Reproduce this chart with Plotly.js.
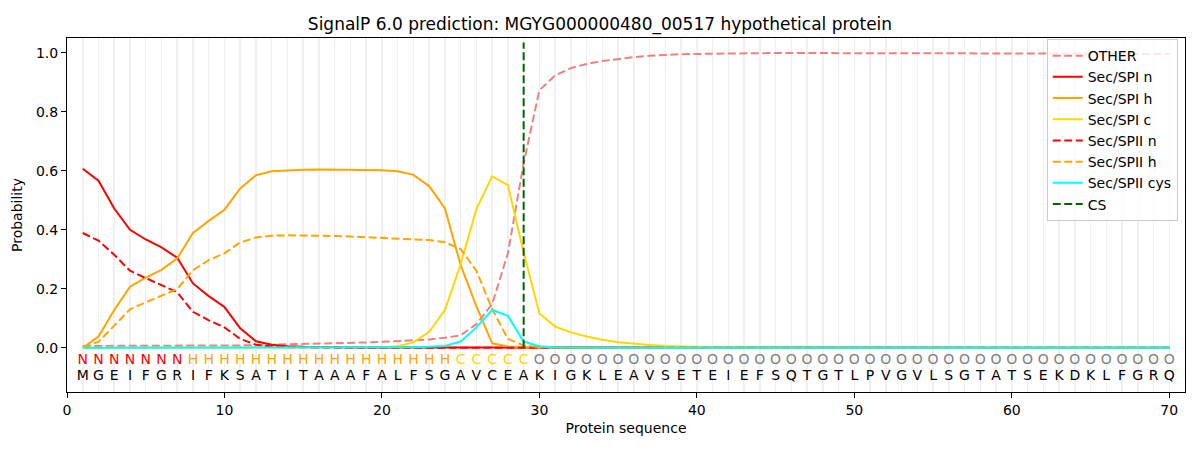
<!DOCTYPE html>
<html>
<head>
<meta charset="utf-8">
<script src="https://cdn.plot.ly/plotly-3.0.1.min.js"></script>
<style>
  body { margin: 0; background: #fff; }
  #chart { width: 1200px; height: 450px; }
</style>
</head>
<body>
<div id="chart"></div>
<script>
// residue sequence and per-residue region labels
const residues = "MGEIFGRIFKSATITAAAFALFSGAVCEAKIGKLEAVSETEIEFSQTGTLPVGVLSGTATSEKDKLFGRQ".split('');
const regionLabels = "NNNNNNNHHHHHHHHHHHHHHHHHCCCCCOOOOOOOOOOOOOOOOOOOOOOOOOOOOOOOOOOOOOOOOO".split('');
const csPos = 29;

// probabilities, one value per residue
const otherP = [0.006,0.006,0.006,0.006,0.006,0.006,0.007,0.007,0.007,0.008,
    0.008,0.009,0.010,0.011,0.012,0.013,0.014,0.016,0.018,0.020,
    0.022,0.024,0.028,0.034,0.042,0.080,0.148,0.320,0.625,0.873,
    0.923,0.948,0.962,0.972,0.979,0.985,0.990,0.993,0.995,0.996,
    0.997,0.998,0.998,0.998,0.999,0.999,0.999,0.999,0.999,0.999,
    0.999,0.999,0.999,0.999,0.998,0.998,0.998,0.998,0.998,0.998,
    0.997,0.997,0.997,0.997,0.997,0.997,0.997,0.996,0.996,0.996];
const spiN = [0.607,0.566,0.472,0.400,0.367,0.340,0.305,0.218,0.175,0.138,
    0.066,0.022,0.010,0.005,0.003,0.002,0.002,0.001,0.001,0.001,
    0.001,0.001,0.001,0.001,0.001,0.001,0.001,0.001,0.001,0,
    0,0,0,0,0,0,0,0,0,0,
    0,0,0,0,0,0,0,0,0,0,
    0,0,0,0,0,0,0,0,0,0,
    0,0,0,0,0,0,0,0,0,0];
const spiH = [0.000,0.038,0.128,0.207,0.238,0.264,0.303,0.389,0.430,0.468,
    0.540,0.585,0.598,0.601,0.603,0.604,0.604,0.604,0.603,0.602,
    0.598,0.586,0.548,0.472,0.280,0.140,0.015,0.004,0.002,0.001,
    0,0,0,0,0,0,0,0,0,0,
    0,0,0,0,0,0,0,0,0,0,
    0,0,0,0,0,0,0,0,0,0,
    0,0,0,0,0,0,0,0,0,0];
const spiC = [0,0,0,0,0,0,0,0,0,0,
    0,0,0,0,0,0,0,0,0,0.002,
    0.005,0.018,0.054,0.128,0.284,0.470,0.581,0.551,0.323,0.116,
    0.072,0.052,0.038,0.027,0.019,0.013,0.009,0.006,0.004,0.003,
    0.002,0.002,0.001,0.001,0.001,0,0,0,0,0,
    0,0,0,0,0,0,0,0,0,0,
    0,0,0,0,0,0,0,0,0,0];
const spiiN = [0.389,0.363,0.315,0.261,0.236,0.213,0.188,0.122,0.093,0.069,
    0.030,0.010,0.004,0.002,0.001,0.001,0,0,0,0,
    0,0,0,0,0,0,0,0,0,0,
    0,0,0,0,0,0,0,0,0,0,
    0,0,0,0,0,0,0,0,0,0,
    0,0,0,0,0,0,0,0,0,0,
    0,0,0,0,0,0,0,0,0,0];
const spiiH = [0.003,0.020,0.075,0.130,0.154,0.176,0.199,0.263,0.297,0.320,
    0.357,0.374,0.380,0.381,0.381,0.381,0.379,0.377,0.375,0.373,
    0.371,0.368,0.365,0.358,0.334,0.261,0.131,0.030,0.008,0.002,
    0,0,0,0,0,0,0,0,0,0,
    0,0,0,0,0,0,0,0,0,0,
    0,0,0,0,0,0,0,0,0,0,
    0,0,0,0,0,0,0,0,0,0];
const spiiCys = [0,0,0,0,0,0,0,0,0,0,
    0,0,0,0,0,0,0,0,0,0,
    0.001,0.002,0.003,0.006,0.021,0.069,0.128,0.108,0.021,0.005,
    0.001,0,0,0,0,0,0,0,0,0,
    0,0,0,0,0,0,0,0,0,0,
    0,0,0,0,0,0,0,0,0,0,
    0,0,0,0,0,0,0,0,0,0];

const labelColors = { N: 'red', H: 'orange', C: 'gold', O: 'gray' };
const pos = residues.map((r, i) => i + 1);
const dashed = '8px,3.5px';
const font = 'DejaVu Sans, sans-serif';

const line = (name, y, color, dash) => ({
    x: pos, y: y, name: name, type: 'scatter', mode: 'lines',
    line: { color: color, width: 2, dash: dash || 'solid' }
});

let data = [
    line('OTHER', otherP, 'lightcoral', dashed),
    line('Sec/SPI n', spiN, 'red'),
    line('Sec/SPI h', spiH, 'orange'),
    line('Sec/SPI c', spiC, 'gold'),
    line('Sec/SPII n', spiiN, 'red', dashed),
    line('Sec/SPII h', spiiH, 'orange', dashed),
    line('Sec/SPII cys', spiiCys, 'cyan'),
    {
        x: [csPos, csPos], y: [0, 1.035], name: 'CS', type: 'scatter', mode: 'lines',
        line: { color: 'darkgreen', width: 2, dash: dashed }
    },
    {
        x: pos, y: pos.map(() => -0.044), type: 'scatter', mode: 'text',
        text: regionLabels, showlegend: false, hoverinfo: 'skip',
        textfont: { family: font, size: 14, color: regionLabels.map((l) => labelColors[l]) }
    },
    {
        x: pos, y: pos.map(() => -0.098), type: 'scatter', mode: 'text',
        text: residues, showlegend: false, hoverinfo: 'skip',
        textfont: { family: font, size: 14, color: 'black' }
    }
];

let layout = {
    width: 1200, height: 450,
    margin: { l: 67, r: 15, t: 38, b: 58 },
    paper_bgcolor: 'white',
    plot_bgcolor: 'white',
    font: { family: font, size: 14, color: 'black' },
    title: {
        text: 'SignalP 6.0 prediction: MGYG000000480_00517 hypothetical protein',
        font: { family: font, size: 17, color: 'black' },
        x: 0.5, xanchor: 'center', y: 0.947, yanchor: 'middle'
    },
    xaxis: {
        range: [0, 71], tick0: 0, dtick: 10,
        ticks: 'outside', ticklen: 5, tickcolor: 'black',
        showline: true, linecolor: 'black', linewidth: 1, mirror: true,
        showgrid: true, gridcolor: '#f0f0f0', gridwidth: 1.5,
        minor: { dtick: 1, tick0: 0, showgrid: true, gridcolor: '#f0f0f0', gridwidth: 1.5 },
        zeroline: false,
        title: { text: 'Protein sequence', font: { family: font, size: 14 }, standoff: 6 }
    },
    yaxis: {
        range: [-0.15, 1.05], tick0: 0, dtick: 0.2, tickformat: '.1f',
        ticks: 'outside', ticklen: 5, tickcolor: 'black',
        showline: true, linecolor: 'black', linewidth: 1, mirror: true,
        showgrid: false, zeroline: false,
        title: { text: 'Probability', font: { family: font, size: 14 }, standoff: 10 }
    },
    legend: {
        x: 0.9935, y: 0.997, xanchor: 'right', yanchor: 'top',
        bgcolor: 'rgba(255,255,255,0.8)', bordercolor: '#cccccc', borderwidth: 1,
        font: { family: font, size: 14 }, itemwidth: 30, tracegroupgap: 0
    },
    showlegend: true
};

Plotly.newPlot('chart', data, layout, { staticPlot: true });
</script>
</body>
</html>
